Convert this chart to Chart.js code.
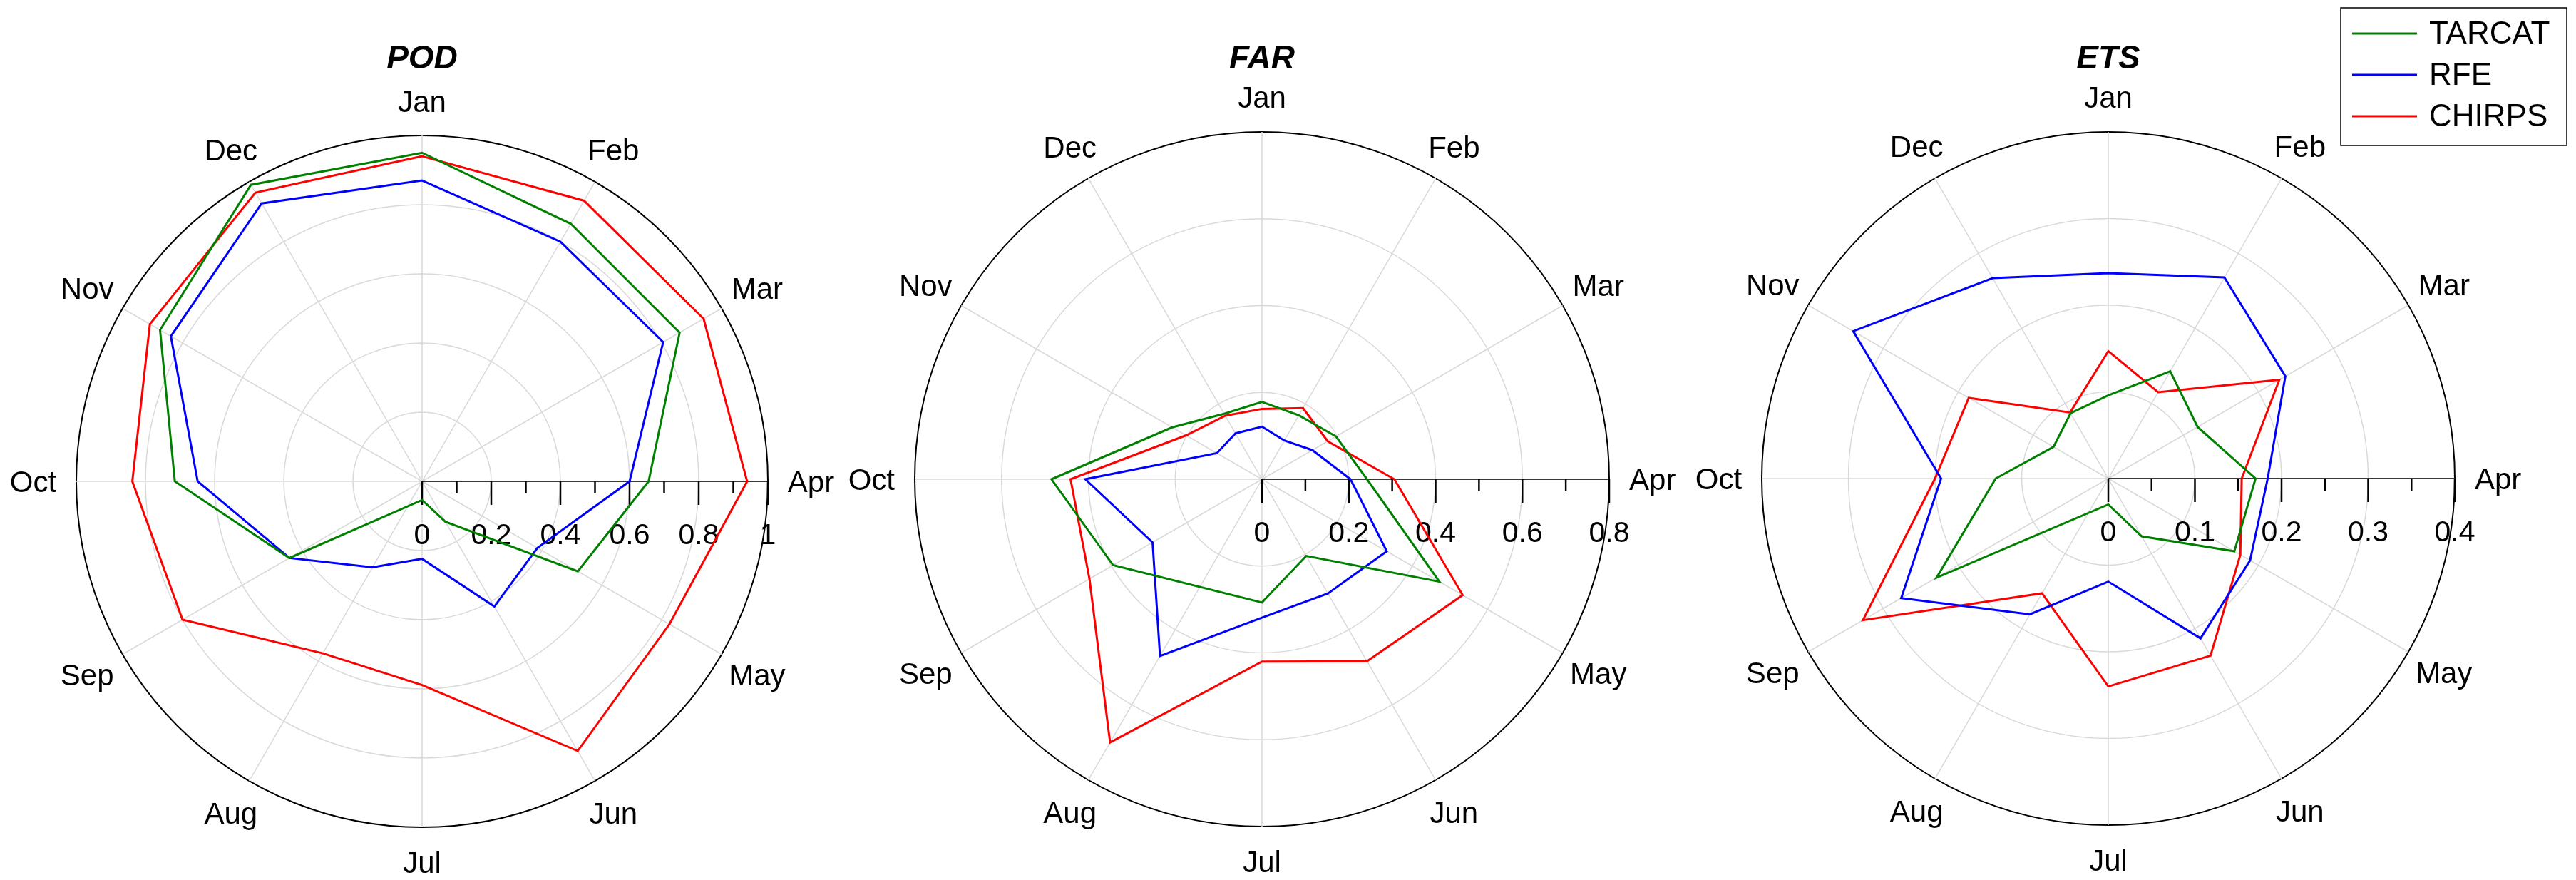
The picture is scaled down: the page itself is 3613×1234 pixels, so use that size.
<!DOCTYPE html>
<html>
<head>
<meta charset="utf-8">
<script src="https://cdn.jsdelivr.net/npm/chart.js@4.4.1/dist/chart.umd.min.js"></script>
<style>
  body { margin: 0; background: #fff; }
  #wrap { position: relative; width: 3613px; height: 1234px; overflow: hidden; }
  #wrap canvas { position: absolute; top: 0; }
</style>
</head>
<body>
<div id="wrap">
  <canvas id="pod" width="1180" height="1234" style="left:0px"></canvas>
  <canvas id="far" width="1180" height="1234" style="left:1180px"></canvas>
  <canvas id="ets" width="1253" height="1234" style="left:2360px"></canvas>
</div>
<script>
const months = ['Jan', 'Feb', 'Mar', 'Apr', 'May', 'Jun', 'Jul', 'Aug', 'Sep', 'Oct', 'Nov', 'Dec'];
const seriesNames = ['TARCAT', 'RFE', 'CHIRPS'];
const seriesColors = ['#008000', '#0000ff', '#ff0000'];

// radial tick labels of each panel
const podTicks = [0, 0.2, 0.4, 0.6, 0.8, 1];
const farTicks = [0, 0.2, 0.4, 0.6, 0.8];
const etsTicks = [0, 0.1, 0.2, 0.3, 0.4];

// POD (TARCAT has no August value, the line skips it)
const podTarcat = [0.95, 0.86, 0.86, 0.655, 0.52, 0.135, 0.054, null, 0.443, 0.715, 0.875, 0.99];
const podRfe    = [0.87, 0.80, 0.805, 0.60, 0.385, 0.418, 0.224, 0.287, 0.443, 0.649, 0.839, 0.928];
const podChirps = [0.94, 0.937, 0.94, 0.94, 0.826, 0.90, 0.589, 0.574, 0.80, 0.838, 0.909, 0.964];

// FAR
const farTarcat = [0.178, 0.170, 0.197, 0.242, 0.472, 0.204, 0.284, null, 0.396, 0.485, 0.239, 0.174];
const farRfe    = [0.121, 0.103, 0.134, 0.204, 0.332, 0.304, 0.319, 0.470, 0.291, 0.407, 0.120, 0.122];
const farChirps = [0.162, 0.189, 0.175, 0.305, 0.534, 0.484, 0.420, 0.700, 0.459, 0.441, 0.202, 0.169];

// ETS
const etsTarcat = [0.096, 0.143, 0.119, 0.170, 0.168, 0.077, 0.030, null, 0.229, 0.130, 0.073, 0.087];
const etsRfe    = [0.237, 0.268, 0.236, 0.184, 0.189, 0.213, 0.119, 0.181, 0.276, 0.193, 0.340, 0.267];
const etsChirps = [0.147, 0.115, 0.228, 0.154, 0.176, 0.236, 0.240, 0.153, 0.327, 0.200, 0.186, 0.088];

const FONT = '"Liberation Sans", Arial, Helvetica, sans-serif';
const GRID_GREY = '#d9d9d9';

// axis along the Apr spoke, month labels and panel title
const polarDecor = {
  id: 'polarDecor',
  beforeDatasetsDraw(chart, args, opts) {
    const r = chart.scales.r;
    const ctx = chart.ctx;
    const cx = r.xCenter, cy = r.yCenter;
    const ticks = opts.ticks;
    const step = ticks[1] - ticks[0];
    ctx.save();
    ctx.strokeStyle = '#000';
    ctx.lineWidth = 1.4;
    ctx.beginPath();
    ctx.moveTo(cx, cy);
    ctx.lineTo(cx + r.getDistanceFromCenterForValue(r.max), cy);
    ctx.stroke();
    ctx.lineWidth = 2.5;
    const n = (ticks.length - 1) * 2;
    for (let k = 0; k <= n; k++) {
      const d = r.getDistanceFromCenterForValue(k * step / 2);
      ctx.beginPath();
      ctx.moveTo(cx + d, cy);
      ctx.lineTo(cx + d, cy + (k % 2 === 0 ? 33 : 17));
      ctx.stroke();
    }
    ctx.fillStyle = '#000';
    ctx.font = '41px ' + FONT;
    ctx.textAlign = 'center';
    ctx.textBaseline = 'alphabetic';
    ticks.forEach((t) => {
      ctx.fillText(String(t), cx + r.getDistanceFromCenterForValue(t), cy + 88);
    });
    ctx.restore();
  },
  afterDraw(chart, args, opts) {
    const r = chart.scales.r;
    const ctx = chart.ctx;
    const R = r.drawingArea;
    ctx.save();
    ctx.fillStyle = '#000';
    ctx.textAlign = 'center';
    ctx.textBaseline = 'alphabetic';
    ctx.font = '42px ' + FONT;
    chart.data.labels.forEach((lab, i) => {
      const s = Math.sin(i * Math.PI / 6);
      const p = r.getPointPosition(i, R * 1.1 + 12 * s * s);
      ctx.fillText(lab, p.x, p.y + 0.716 * 42 / 2);
    });
    ctx.font = 'italic bold 46px ' + FONT;
    ctx.fillText(opts.title, r.xCenter, 96);
    ctx.restore();
  }
};

const legendBox = {
  id: 'legendBox',
  afterDraw(chart, args, opts) {
    if (!opts.show) return;
    const ctx = chart.ctx;
    ctx.save();
    ctx.fillStyle = '#fff';
    ctx.fillRect(923, 11, 317, 193);
    ctx.strokeStyle = '#000';
    ctx.lineWidth = 1.5;
    ctx.strokeRect(923, 11, 317, 193);
    ctx.font = '44px ' + FONT;
    ctx.textAlign = 'left';
    ctx.textBaseline = 'middle';
    chart.data.datasets.forEach((ds, i) => {
      const y = 47 + i * 58;
      ctx.strokeStyle = ds.borderColor;
      ctx.lineWidth = 3;
      ctx.beginPath();
      ctx.moveTo(939, y);
      ctx.lineTo(1030, y);
      ctx.stroke();
      ctx.fillStyle = '#000';
      ctx.fillText(ds.label, 1047, y + 2);
    });
    ctx.restore();
  }
};

function makePanel(id, title, ticks, series, padding, showLegend) {
  const max = ticks[ticks.length - 1];
  const step = ticks[1] - ticks[0];
  new Chart(document.getElementById(id), {
    type: 'radar',
    data: {
      labels: months,
      datasets: series.map((vals, i) => ({
        label: seriesNames[i],
        data: vals,
        borderColor: seriesColors[i],
        backgroundColor: seriesColors[i],
        borderWidth: 3,
        fill: false,
        tension: 0,
        spanGaps: true,
        pointRadius: 0,
        pointHoverRadius: 0,
      })),
    },
    options: {
      responsive: false,
      animation: false,
      layout: { padding },
      plugins: {
        legend: { display: false },
        tooltip: { enabled: false },
        polarDecor: { title, ticks },
        legendBox: { show: showLegend },
      },
      scales: {
        r: {
          min: 0,
          max,
          ticks: { display: false, stepSize: step },
          pointLabels: { display: false },
          grid: {
            circular: true,
            color: (c) => (c.tick && c.tick.value >= max - 1e-9 ? '#000' : GRID_GREY),
            lineWidth: (c) => (c.tick && c.tick.value >= max - 1e-9 ? 2 : 1.5),
          },
          angleLines: { color: GRID_GREY, lineWidth: 1.5 },
        },
      },
    },
    plugins: [polarDecor, legendBox],
  });
}

makePanel('pod', 'POD', podTicks, [podTarcat, podRfe, podChirps],
  { left: 107, right: 103, top: 190, bottom: 74 }, false);
makePanel('far', 'FAR', farTicks, [farTarcat, farRfe, farChirps],
  { left: 103, right: 103, top: 185, bottom: 75 }, false);
makePanel('ets', 'ETS', etsTicks, [etsTarcat, etsRfe, etsChirps],
  { left: 111, right: 170, top: 185, bottom: 77 }, true);
</script>
</body>
</html>
